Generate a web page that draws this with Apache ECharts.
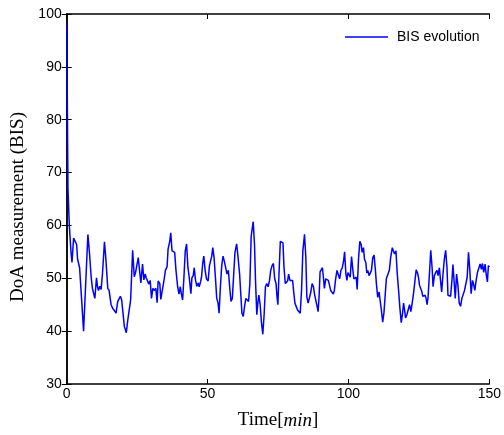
<!DOCTYPE html>
<html>
<head>
<meta charset="utf-8">
<script src="https://cdn.jsdelivr.net/npm/echarts@6/dist/echarts.min.js"></script>
<style>
html,body{margin:0;padding:0;background:#fff;}
#chart{width:504px;height:435px;}
</style>
</head>
<body>
<div id="chart"></div>
<script>
// Time in minutes
const time = [
0,0.2,0.45,0.93,1.52,1.87,2.46,3.05,3.52,3.87,4.22,4.58,5.16,5.99,7.52,8.11,8.69,9.16,9.75,9.99,
10.58,10.93,11.28,11.75,12.22,12.69,13.4,13.87,14.58,15.05,15.4,15.75,16.34,16.93,17.52,18.1,18.69,19.05,19.52,20.1,
20.46,21.16,21.63,22.1,22.69,23.4,23.98,24.45,24.92,25.39,25.86,26.33,26.92,27.39,27.86,28.22,28.69,29.16,29.63,30.1,
30.57,31.04,31.63,32.1,32.45,33.04,33.4,33.98,34.45,35.04,35.63,35.98,36.57,36.93,37.38,37.85,38.32,38.79,39.38,39.85,
40.32,40.67,41.14,41.61,42.08,42.55,43.02,43.49,44.08,44.44,44.91,45.26,45.73,46.2,46.67,47.02,47.49,47.84,48.32,48.67,
49.14,49.61,50.2,50.67,51.14,51.49,51.84,52.31,52.78,53.25,53.72,54.08,54.55,55.02,55.49,55.96,56.43,56.9,57.37,57.84,
58.31,58.78,59.25,59.72,60.31,60.78,61.37,61.84,62.19,62.66,63.13,63.6,64.07,64.54,65.01,65.48,66.19,66.66,67.01,67.48,
67.83,68.19,68.66,69.13,69.6,70.07,70.54,71.01,71.48,71.95,72.42,72.89,73.36,73.83,74.3,74.65,74.95,75.35,75.82,76.29,
76.76,77.12,77.59,78.06,78.41,78.76,79.23,79.7,80.17,80.64,81,81.58,81.94,82.41,82.88,83.35,83.82,84.41,84.88,85.23,
85.7,86.17,86.64,87.11,87.58,87.93,88.4,88.87,89.23,89.58,89.93,90.29,90.76,91.11,91.46,91.93,92.4,92.87,93.22,93.7,
94.17,94.64,94.99,95.46,95.93,96.4,96.87,97.34,97.81,98.28,98.63,99.1,99.46,99.81,100.16,100.63,101.1,101.57,101.93,102.4,
102.75,103.1,103.57,104.04,104.51,104.86,105.34,105.69,106.16,106.51,106.86,107.33,107.69,108.16,108.63,109.1,109.57,109.92,110.39,110.86,
111.21,111.69,112.16,112.6,113,113.45,113.92,114.51,114.98,115.57,115.92,116.39,116.86,117.33,117.8,118.27,118.74,119.21,119.57,119.92,
120.27,120.74,121.21,121.68,122.15,122.62,123.09,123.56,124.03,124.5,124.86,125.21,125.56,125.92,126.39,126.74,127.21,127.56,127.92,128.27,
128.74,129.21,129.68,130.03,130.5,130.97,131.44,131.8,132.27,132.62,133.09,133.56,134.03,134.5,134.97,135.32,135.79,136.26,136.73,137.09,
137.44,137.91,138.38,138.85,139.32,139.79,140.26,140.73,141.2,141.67,142.14,142.61,143.08,143.55,144.02,144.37,144.85,145.32,145.79,146.26,
146.73,147.2,147.55,148.02,148.49,148.96,149.32,149.67,150
];
// BIS values
const bis = [
98,85,67,60,55,53,57.6,57.6,56.4,53.6,53.3,52,47.1,40,58.3,54.6,50.2,48,47.7,46.2,
50.1,48.4,47.7,48.5,47.9,50.8,56.9,53.9,48.1,47.7,47.9,45,44.3,43.9,43.4,45.6,45.6,46.6,45.9,42.8,
40.9,39.7,41.9,42.1,45.9,55.3,50.3,51.1,51.4,53.9,51.5,49.1,52.7,49.7,50.8,50.1,49.9,48.9,49.6,46.2,
48.1,47.7,48.1,45.4,49.5,49,46,46.2,49.3,51.5,52.2,55.5,57,58.6,55.2,55.5,54.9,51.5,48.4,47,
48.4,47.1,45.9,50.2,55.2,56.5,52.1,50.2,47.1,50.1,50.5,52,49.6,48.5,49.1,48.4,49.3,50.2,53,54.2,
51.5,49.9,49.5,52.4,52.6,54.2,55.8,53.9,50.2,46.2,45.3,43.4,48.4,52.4,54.2,53.2,53,50.8,51.5,48.4,
45.6,46.2,50.5,54.9,56.5,54.2,50.8,46.5,43.4,42.8,44.7,46.2,45.9,45.6,49,58,60.7,56.4,49.6,43.1,
45.3,46.8,45,41.6,39.4,43.1,48.4,49,48.4,49.5,51.5,52.4,52.8,49.9,49,46.5,45,50.8,57,57.1,
56.7,52.1,49,48.9,49.5,50.8,49.6,49.9,49.6,47.1,45.3,45,44,43.7,43.4,47.7,55.2,58.3,53.9,46.5,
45.3,45.6,47.4,49,48.4,47.1,46.8,44.7,43.7,46.5,51.2,51.5,52,50.2,48.1,49.9,50.1,49.6,49.9,47.7,
47.4,47,47.7,49.9,51.5,51.3,49.9,51.5,52,53.3,55,50.8,49.6,51.1,51.1,50.2,54.1,51.6,49.9,50.1,
50.2,47.9,53.6,57,56.4,54.9,55.8,53.6,53,51,51.5,50.5,50.5,51.5,53.9,54.4,51.5,49,46.4,47.4,
47.4,44,41.7,43.5,46.5,49.9,50.1,51.5,53.9,55.8,55.2,54.6,55.2,50.8,47.7,44.3,41.6,43.4,45.3,44,
42.5,43.1,42.9,45,43.7,45.3,47.1,49.3,51.6,51,50.2,48.7,49,47.7,46.6,46.3,46.8,46.2,45,46.5,
50.8,55.3,52.1,48.4,50.5,51.1,51.5,50.5,52,49.9,47.4,50.8,53.6,55.3,52.1,46.8,47.1,46.6,49.6,52.6,
49.9,46.2,50.8,48.7,45.3,44.7,46.2,46.5,47.7,47.9,50.2,54.9,51.5,47.1,49.6,49,47.7,49.6,51.1,51.1,
52.7,51.7,52.8,51.1,52.7,50.5,49.3,52.4,52.1
];
const xTicks = [0, 50, 100, 150];
const yTicks = [30, 40, 50, 60, 70, 80, 90, 100];

const chart = echarts.init(document.getElementById('chart'), null, {renderer: 'canvas'});
const labelFont = {color: '#000', fontFamily: 'Liberation Sans, Arial, sans-serif', fontSize: 14};
const serif = 'Liberation Serif, Times New Roman, serif';
const axisLine = {show: true, lineStyle: {color: '#000', width: 1.5}};
const tick = {show: true, inside: true, length: 5, lineStyle: {color: '#000', width: 1}};

chart.setOption({
  animation: false,
  backgroundColor: '#fff',
  grid: {left: 66.7, right: 11.7, top: 14, bottom: 44, containLabel: false},
  legend: {
    data: [{name: 'BIS evolution', icon: 'rect'}],
    left: 340, top: 25,
    itemWidth: 43, itemHeight: 1.5,
    textStyle: {color: '#000', fontFamily: 'Liberation Sans, Arial, sans-serif', fontSize: 14, padding: [0,0,0,4]}
  },
  xAxis: [{
    type: 'value', min: xTicks[0], max: xTicks[xTicks.length-1], interval: 50,
    axisLine: axisLine, axisTick: tick, splitLine: {show: false},
    axisLabel: Object.assign({margin: 3}, labelFont),
    name: 'Time[{i|min}]', nameLocation: 'middle', nameGap: 27,
    nameTextStyle: {color: '#000', fontFamily: serif, fontSize: 19,
      rich: {i: {fontStyle: 'italic', fontFamily: serif, fontSize: 19, color: '#000'}}}
  }, {
    type: 'value', position: 'top', min: xTicks[0], max: xTicks[xTicks.length-1], interval: 50,
    axisLine: axisLine, axisTick: tick, axisLabel: {show: false}, splitLine: {show: false}
  }],
  yAxis: [{
    type: 'value', min: yTicks[0], max: yTicks[yTicks.length-1], interval: 10,
    axisLine: axisLine, axisTick: tick, splitLine: {show: false},
    axisLabel: Object.assign({margin: 5}, labelFont),
    name: 'DoA measurement (BIS)', nameLocation: 'middle', nameGap: 32,
    nameTextStyle: {color: '#000', fontFamily: serif, fontSize: 19, padding: [0, 16, 0, 0]}
  }, {
    type: 'value', position: 'right', min: yTicks[0], max: yTicks[yTicks.length-1], interval: 10,
    axisLine: axisLine, axisTick: tick, axisLabel: {show: false}, splitLine: {show: false}
  }],
  series: [{
    name: 'BIS evolution', type: 'line', symbol: 'none', showSymbol: false,
    data: time.map((t, i) => [t, bis[i]]),
    lineStyle: {color: '#0000ff', width: 1.5},
    itemStyle: {color: '#0000ff'}
  }]
});
</script>
</body>
</html>
